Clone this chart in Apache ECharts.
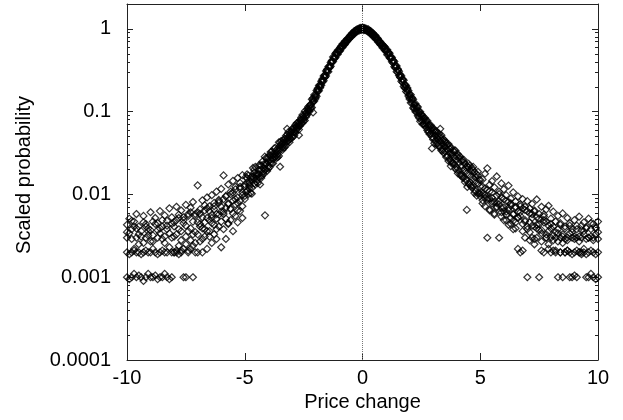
<!DOCTYPE html>
<html><head><meta charset="utf-8">
<script src="https://cdn.jsdelivr.net/npm/echarts@6/dist/echarts.min.js"></script>
<style>html,body{margin:0;padding:0;background:#fff}#c{width:623px;height:420px}</style>
</head><body><div id="c"></div>
<script>
// ---- data (price change vs scaled probability) ----
const xsLeft = [-10,-9.9,-9.8,-9.7,-9.6,-9.5,-9.4,-9.3,-9.2,-9.1,-9,-8.9,-8.8,-8.7,-8.6,-8.5,-8.4,-8.3,-8.2,-8.1,
  -8,-7.9,-7.8,-7.7,-7.6,-7.5,-7.4,-7.3,-7.2,-7.1,-7,-6.9,-6.8,-6.7,-6.6,-6.5,-6.4,-6.3,-6.2,-6.1,
  -6,-5.9,-5.8,-5.7,-5.6,-5.5,-5.4,-5.3,-5.2,-5.1];
const xsCore = [-5,-4.9,-4.8,-4.7,-4.6,-4.5,-4.4,-4.3,-4.2,-4.1,-4,-3.9,-3.8,-3.7,-3.6,-3.5,-3.4,-3.3,-3.2,-3.1,
  -3,-2.9,-2.8,-2.7,-2.6,-2.5,-2.4,-2.3,-2.2,-2.1,-2,-1.9,-1.8,-1.7,-1.6,-1.5,-1.4,-1.3,-1.2,-1.1,
  -1,-0.9,-0.8,-0.7,-0.6,-0.5,-0.4,-0.3,-0.2,-0.1,0,0.1,0.2,0.3,0.4,0.5,0.6,0.7,0.8,0.9,
  1,1.1,1.2,1.3,1.4,1.5,1.6,1.7,1.8,1.9,2,2.1,2.2,2.3,2.4,2.5,2.6,2.7,2.8,2.9,
  3,3.1,3.2,3.3,3.4,3.5,3.6,3.7,3.8,3.9,4,4.1,4.2,4.3,4.4,4.5,4.6,4.7,4.8,4.9,5];
const xsHalf = [-4.95,-4.85,-4.75,-4.65,-4.55,-4.45,-4.35,-4.25,-4.15,-4.05,
  -3.95,-3.85,-3.75,-3.65,-3.55,-3.45,-3.35,-3.25,-3.15,-3.05,
  -2.95,-2.85,-2.75,-2.65,-2.55,-2.45,-2.35,-2.25,-2.15,-2.05,
  -1.95,-1.85,-1.75,-1.65,-1.55,-1.45,-1.35,-1.25,-1.15,-1.05,
  -0.95,-0.85,-0.75,-0.65,-0.55,-0.45,-0.35,-0.25,-0.15,-0.05,
  0.05,0.15,0.25,0.35,0.45,0.55,0.65,0.75,0.85,0.95,
  1.05,1.15,1.25,1.35,1.45,1.55,1.65,1.75,1.85,1.95,
  2.05,2.15,2.25,2.35,2.45,2.55,2.65,2.75,2.85,2.95,
  3.05,3.15,3.25,3.35,3.45,3.55,3.65,3.75,3.85,3.95,
  4.05,4.15,4.25,4.35,4.45,4.55,4.65,4.75,4.85,4.95];
const xsRight = [5.1,5.2,5.3,5.4,5.5,5.6,5.7,5.8,5.9,6,6.1,6.2,6.3,6.4,6.5,6.6,6.7,6.8,6.9,7,
  7.1,7.2,7.3,7.4,7.5,7.6,7.7,7.8,7.9,8,8.1,8.2,8.3,8.4,8.5,8.6,8.7,8.8,8.9,9,
  9.1,9.2,9.3,9.4,9.5,9.6,9.7,9.8,9.9,10];

const s1Left = [0.001,0.00095,0.001,0.0011,0.001,0.00105,0.001,0.0009,0.001,0.0011,
  0.001,0.001,0.00105,0.00095,0.001,0.001,0.0011,0.001,0.00095,0.001,
  0.002,0.002,0.0019,0.0021,0.001,0.001,0.002,0.0022,0.001,0.002,
  0.002,0.0027,0.002,0.0031,0.0022,0.0036,0.0026,0.0033,0.0029,0.0041,
  0.0023,0.0038,0.0029,0.0045,0.0049,0.0036,0.0055,0.0046,0.0063,0.0052];
const s2Left = [0.002,0.0019,0.002,0.0021,0.002,0.002,0.0019,0.002,0.0021,0.002,
  0.002,0.0022,0.002,0.0019,0.002,0.0021,0.002,0.002,0.0023,0.002,
  0.002,0.0021,0.0024,0.002,0.0022,0.0025,0.0021,0.0028,0.0024,0.0026,
  0.0033,0.0041,0.0029,0.0046,0.0036,0.0031,0.0052,0.0043,0.0038,0.0057,
  0.0047,0.0062,0.0051,0.0044,0.0068,0.0059,0.0076,0.0064,0.0085,0.0072];
const s3Left = [0.003,0.0034,0.0029,0.0041,0.003,0.0025,0.0031,0.0046,0.003,0.0036,
  0.0027,0.0032,0.0044,0.003,0.0039,0.0029,0.0031,0.0048,0.0034,0.003,
  0.0041,0.0033,0.0052,0.0036,0.0045,0.0031,0.0058,0.0039,0.0047,0.0035,
  0.0061,0.0044,0.0053,0.0038,0.0068,0.0049,0.0057,0.0072,0.0051,0.0079,
  0.0062,0.0088,0.0069,0.0078,0.0101,0.0084,0.0115,0.0092,0.0124,0.0098];
const s4Left = [0.0043,0.0051,0.0038,0.0047,0.0058,0.0041,0.0036,0.0055,0.0044,0.0039,
  0.0061,0.0047,0.0052,0.0037,0.0063,0.0049,0.0056,0.0042,0.0068,0.0053,
  0.0046,0.0071,0.0057,0.0064,0.0049,0.0075,0.0055,0.0069,0.0081,0.0058,
  0.0129,0.0066,0.0085,0.0074,0.0092,0.0063,0.0098,0.0079,0.0108,0.0086,
  0.0117,0.017,0.0096,0.0132,0.0108,0.0146,0.0124,0.0158,0.0138,0.0171];
const s5Left = [0.0035,null,0.0048,0.0022,0.0039,0.0033,null,0.0026,0.0041,0.0032,
  0.0037,0.0027,null,0.0045,0.0034,0.0041,0.0026,0.0038,null,0.0044,
  0.0031,0.0049,0.0038,0.0028,0.0053,0.0042,0.0036,0.0061,0.0033,0.0055,
  0.0046,0.0058,0.0039,0.0064,0.0052,0.0072,0.0045,0.0066,0.0058,0.0083,
  0.0071,0.0058,0.0094,0.0076,0.0066,0.0105,0.0088,0.0079,0.0118,0.0106];

const s1Core = [0.0096,0.0156,0.0126,0.0165,0.0136,0.0179,0.0162,0.0224,0.0189,0.023,
  0.022,0.0297,0.0267,0.0335,0.0306,0.0389,0.0372,0.0473,0.0437,0.052,
  0.0497,0.0625,0.0608,0.0728,0.0724,0.0893,0.0902,0.109,0.112,0.139,
  0.149,0.187,0.199,0.242,0.259,0.319,0.34,0.408,0.437,0.515,
  0.539,0.612,0.637,0.714,0.745,0.836,0.862,0.949,0.96,1.01,1.0,
  0.97,0.989,0.911,0.898,0.804,0.775,0.686,0.663,0.588,
  0.561,0.485,0.464,0.388,0.361,0.298,0.281,0.226,0.213,0.171,
  0.163,0.128,0.124,0.0987,0.0996,0.0791,0.0832,0.0644,0.0691,0.0543,
  0.0594,0.045,0.0506,0.0378,0.0448,0.0333,0.0391,0.0273,0.0319,0.023,
  0.0288,0.0196,0.0252,0.016,0.0212,0.0136,0.0192,0.0128,0.0161,0.0104,0.015];
const s2Core = [0.0132,0.011,0.014,0.012,0.0184,0.0153,0.0198,0.0166,0.0231,0.0202,
  0.0275,0.0243,0.0307,0.0285,0.0357,0.0344,0.0424,0.0404,0.0483,0.0465,
  0.0572,0.056,0.0672,0.0665,0.0809,0.0808,0.0978,0.101,0.123,0.13,
  0.16,0.175,0.211,0.228,0.278,0.304,0.357,0.392,0.459,0.49,
  0.556,0.588,0.663,0.686,0.768,0.804,0.889,0.921,0.98,0.98,1.02,
  1.0,0.96,0.949,0.862,0.836,0.745,0.714,0.637,0.612,
  0.539,0.515,0.437,0.412,0.34,0.322,0.259,0.244,0.197,0.189,
  0.147,0.142,0.112,0.111,0.0884,0.091,0.0716,0.0756,0.0589,0.0649,
  0.0486,0.056,0.0414,0.0482,0.0352,0.0426,0.0296,0.0357,0.0247,0.0324,
  0.0213,0.0276,0.0168,0.0244,0.0153,0.0213,0.0128,0.0195,0.0112,0.0169,0.0102];
const s3Core = [0.0125,0.0138,0.0131,0.0152,0.0155,0.0168,0.0175,0.0201,0.0205,0.0238,
  0.0248,0.0262,0.0295,0.0305,0.0338,0.0362,0.0408,0.0425,0.0468,0.0492,
  0.0545,0.0582,0.0648,0.0692,0.0778,0.0842,0.0951,0.104,0.119,0.134,
  0.156,0.179,0.206,0.234,0.271,0.309,0.351,0.399,0.451,0.499,
  0.551,0.599,0.651,0.699,0.761,0.819,0.881,0.929,0.971,0.989,0.99,
  0.995,0.975,0.935,0.885,0.825,0.765,0.705,0.655,0.605,
  0.555,0.505,0.455,0.405,0.355,0.315,0.274,0.238,0.208,0.182,
  0.157,0.137,0.12,0.106,0.095,0.086,0.078,0.071,0.065,0.06,
  0.055,0.051,0.047,0.044,0.041,0.038,0.035,0.032,0.03,0.028,
  0.026,0.024,0.022,0.02,0.019,0.0175,0.0165,0.0155,0.0145,0.0135,0.0125];
const s4Core = [0.0088,0.0175,0.0118,0.0102,0.0198,0.0142,0.0225,0.0158,0.0178,0.0275,
  0.0205,0.0325,0.0238,0.0365,0.0282,0.0425,0.0345,0.0372,0.0528,0.0428,
  0.0612,0.0515,0.0725,0.0608,0.0852,0.0768,0.0865,0.115,0.108,0.146,
  0.143,0.192,0.194,0.249,0.262,0.325,0.343,0.415,0.443,0.521,
  0.532,0.621,0.644,0.722,0.752,0.842,0.872,0.952,0.985,1.03,1.04,
  1.02,0.952,0.942,0.872,0.845,0.752,0.722,0.642,0.622,
  0.532,0.522,0.441,0.418,0.338,0.328,0.262,0.248,0.192,0.194,
  0.142,0.148,0.108,0.116,0.0842,0.0935,0.0705,0.0785,0.0565,0.0685,
  0.0462,0.0585,0.0392,0.0505,0.0335,0.0445,0.0285,0.0385,0.0235,0.0342,
  0.0198,0.0292,0.0175,0.0262,0.0148,0.0235,0.0125,0.0215,0.0108,0.0188,0.0095];
const s5Half = [0.0163,0.0101,0.016,0.0209,0.0132,0.0175,0.0132,0.025,0.0198,0.0276,
  0.0213,0.033,0.0285,0.0276,0.0426,0.0404,0.0365,0.0512,0.0442,0.0572,
  0.0497,0.0689,0.0637,0.0794,0.0729,0.1015,0.0921,0.1177,0.1121,0.1595,
  0.154,0.207,0.209,0.27,0.27,0.35,0.353,0.459,0.451,0.551,
  0.546,0.656,0.648,0.759,0.766,0.884,0.869,0.979,0.951,1.025,
  0.965,1.009,0.912,0.941,0.808,0.83,0.701,0.702,0.594,0.604,
  0.488,0.508,0.4,0.405,0.304,0.307,0.234,0.24,0.175,0.179,
  0.128,0.141,0.1,0.114,0.0765,0.0891,0.0676,0.0777,0.0535,0.0638,
  0.0416,0.0576,0.0378,0.0519,0.0316,0.0419,0.0254,0.0366,0.0238,0.0338,
  0.018,0.0286,0.016,0.0235,0.0123,0.0223,0.0121,0.0186,0.0097,0.015];
const s6Half = [0.0106,0.0169,0.0104,0.0163,0.0215,0.0137,0.0226,0.017,0.0286,0.0192,
  0.0299,0.0238,0.036,0.0293,0.0291,0.0443,0.0457,0.0392,0.0566,0.0468,
  0.0633,0.0554,0.0737,0.0676,0.0915,0.0783,0.1069,0.101,0.1411,0.1349,
  0.18,0.179,0.233,0.237,0.31,0.304,0.394,0.404,0.504,0.494,
  0.598,0.6,0.709,0.708,0.814,0.816,0.941,0.922,1.009,0.975,
  1.025,0.96,0.988,0.869,0.884,0.766,0.767,0.648,0.65,0.552,
  0.562,0.447,0.451,0.349,0.356,0.273,0.27,0.202,0.207,0.155,
  0.16,0.111,0.125,0.0891,0.0997,0.0705,0.0838,0.0596,0.0689,0.0497,
  0.0614,0.0408,0.0543,0.034,0.0462,0.0284,0.0406,0.0252,0.0336,0.0203,
  0.0307,0.0172,0.026,0.0141,0.0219,0.0132,0.0209,0.0104,0.0176,0.0103];

const s1Right = [0.0078,0.0091,0.003,0.0064,0.0082,0.0057,0.0069,0.003,0.0061,0.0049,
  0.0057,0.0043,0.0052,0.0038,0.0046,0.0022,0.002,0.0021,0.003,0.001,
  0.0028,0.003,0.0025,0.003,0.001,0.0021,0.002,0.003,0.0022,0.002,
  0.0021,0.002,0.001,0.002,0.001,0.002,0.0021,0.001,0.001,0.00105,
  0.001,0.002,0.0019,0.002,0.001,0.001,0.0011,0.001,0.00095,0.001];
const s2Right = [0.0085,0.0072,0.0091,0.0066,0.0078,0.0059,0.0071,0.0083,0.0054,0.0063,
  0.0049,0.0068,0.0044,0.0057,0.0039,0.0052,0.0061,0.0036,0.0047,0.0041,
  0.0035,0.0052,0.0029,0.0043,0.0037,0.0027,0.0046,0.0033,0.0025,0.0039,
  0.0028,0.0021,0.0034,0.002,0.0026,0.002,0.0021,0.002,0.0019,0.002,
  0.0021,0.002,0.002,0.0022,0.0019,0.002,0.0021,0.002,0.0019,0.002];
const s3Right = [0.0124,0.0098,0.0113,0.0089,0.0106,0.0081,0.0097,0.0076,0.0092,0.0069,
  0.0083,0.0064,0.0078,0.0058,0.0071,0.0062,0.0055,0.0068,0.0049,0.0063,
  0.0046,0.0058,0.0041,0.0053,0.0044,0.0037,0.0049,0.003,0.0042,0.003,
  0.0032,0.003,0.0038,0.003,0.0031,0.0029,0.003,0.0034,0.003,0.0029,
  0.003,0.0031,0.003,0.0036,0.0029,0.003,0.0031,0.003,0.0033,0.0029];
const s4Right = [0.0152,0.0178,0.0207,0.0131,0.0145,0.0122,0.0165,0.0108,0.0136,0.0115,
  0.0098,0.0128,0.0089,0.0106,0.0082,0.0095,0.0076,0.0088,0.0071,0.0083,
  0.0068,0.0077,0.0062,0.0087,0.0058,0.0071,0.0054,0.0066,0.0073,0.0051,
  0.0062,0.0047,0.0055,0.0043,0.0059,0.0041,0.0052,0.0045,0.0038,0.0049,
  0.0042,0.0054,0.0037,0.0046,0.004,0.0051,0.0038,0.0044,0.0039,0.0047];
const s5Right = [0.0102,0.0118,0.0087,0.0109,0.0091,null,0.0079,0.0101,0.0069,0.0088,
  0.0062,0.0081,0.0074,0.0048,0.0069,0.0053,0.0072,0.0044,0.0065,0.0038,
  0.0059,0.0042,0.0064,0.0039,0.0051,0.0034,0.0057,0.0047,0.0036,0.0044,
  0.0041,0.0035,0.0027,0.0045,0.0033,0.0039,0.0028,0.0042,0.0035,0.0031,
  0.0038,0.0027,0.0042,0.0033,0.0039,0.003,0.0045,0.0028,0.004,0.0035];

// isolated points off the main band
const outlierX = [-4.14, -3.5, -2.1, -3.2, 2.95, 3.3, 4.43, 3.75, -2.7];
const outlierY = [0.0056, 0.0216, 0.098, 0.062, 0.036, 0.062, 0.0065, 0.022, 0.052];

const xTicks = [-10, -5, 0, 5, 10];
const yMajor = [0.0001, 0.001, 0.01, 0.1, 1];
const yMinor = [0.0002,0.0003,0.0004,0.0005,0.0006,0.0007,0.0008,0.0009,
  0.002,0.003,0.004,0.005,0.006,0.007,0.008,0.009,
  0.02,0.03,0.04,0.05,0.06,0.07,0.08,0.09,
  0.2,0.3,0.4,0.5,0.6,0.7,0.8,0.9];

// ---- build ----
function pairs(xs, ys) {
  const out = [];
  for (let i = 0; i < xs.length && i < ys.length; i++) {
    if (ys[i] != null) out.push([xs[i], ys[i]]);
  }
  return out;
}
const sets = [
  pairs(xsLeft, s1Left).concat(pairs(xsCore, s1Core), pairs(xsRight, s1Right)),
  pairs(xsLeft, s2Left).concat(pairs(xsCore, s2Core), pairs(xsRight, s2Right)),
  pairs(xsLeft, s3Left).concat(pairs(xsCore, s3Core), pairs(xsRight, s3Right)),
  pairs(xsLeft, s4Left).concat(pairs(xsCore, s4Core), pairs(xsRight, s4Right)),
  pairs(xsLeft, s5Left).concat(pairs(xsHalf, s5Half), pairs(xsRight, s5Right)),
  pairs(xsHalf, s6Half),
  pairs(outlierX, outlierY)
];

const FONT = "'Liberation Sans', Arial, Helvetica, sans-serif";
const AX = '#222';
const txt = { color: '#000', fontSize: 20, fontFamily: FONT };
function yLabel(v) {
  const e = Math.round(Math.log10(v));
  return e >= 0 ? String(Math.pow(10, e)) : '0.' + '0'.repeat(-e - 1) + '1';
}
const yBase = { type: 'log', logBase: 10, min: 0.0001, max: 2, splitLine: { show: false } };

const chart = echarts.init(document.getElementById('c'), null, { renderer: 'canvas' });
chart.setOption({
  animation: false,
  backgroundColor: '#fff',
  grid: { left: 127, right: 25, top: 4, bottom: 60 },
  xAxis: [
    { type: 'value', min: -10, max: 10, interval: 5, position: 'bottom',
      axisLine: { show: true, onZero: false, lineStyle: { color: AX, width: 1 } },
      axisTick: { show: true, inside: true, length: 7, customValues: xTicks, lineStyle: { color: AX } },
      axisLabel: Object.assign({ margin: 8, customValues: xTicks }, txt),
      splitLine: { show: false },
      name: 'Price change', nameLocation: 'middle', nameGap: 26, nameTextStyle: txt },
    { type: 'value', min: -10, max: 10, interval: 5, position: 'top',
      axisLine: { show: true, onZero: false, lineStyle: { color: AX, width: 1 } },
      axisTick: { show: true, inside: true, length: 7, customValues: xTicks, lineStyle: { color: AX } },
      axisLabel: { show: false }, splitLine: { show: false } }
  ],
  yAxis: [
    Object.assign({}, yBase, { position: 'left',
      axisLine: { show: true, onZero: false, lineStyle: { color: AX, width: 1 } },
      axisTick: { show: true, inside: true, length: 6, customValues: yMajor, lineStyle: { color: AX } },
      axisLabel: Object.assign({ margin: 16, customValues: yMajor, formatter: yLabel }, txt),
      name: 'Scaled probability', nameLocation: 'middle', nameGap: 93,
      nameTextStyle: Object.assign({ padding: [0, 0, 0, 14] }, txt) }),
    Object.assign({}, yBase, { position: 'left',
      axisLine: { show: false, onZero: false },
      axisTick: { show: true, inside: true, length: 3, customValues: yMinor, lineStyle: { color: AX } },
      axisLabel: { show: false } }),
    Object.assign({}, yBase, { position: 'right',
      axisLine: { show: true, onZero: false, lineStyle: { color: AX, width: 1 } },
      axisTick: { show: true, inside: true, length: 6, customValues: yMajor, lineStyle: { color: AX } },
      axisLabel: { show: false } }),
    Object.assign({}, yBase, { position: 'right',
      axisLine: { show: false, onZero: false },
      axisTick: { show: true, inside: true, length: 3, customValues: yMinor, lineStyle: { color: AX } },
      axisLabel: { show: false } })
  ],
  series: sets.map((d, k) => ({
    type: 'scatter', xAxisIndex: 0, yAxisIndex: 0, data: d,
    symbol: 'diamond', symbolSize: 7,
    itemStyle: { color: 'rgba(255,255,255,0)', borderColor: '#000', borderWidth: 1.2 },
    emphasis: { disabled: true }, silent: true,
    markLine: k === 0 ? { symbol: 'none', silent: true, label: { show: false },
      lineStyle: { type: 'dotted', color: '#777', width: 1 }, data: [{ xAxis: 0 }] } : undefined
  }))
});
</script></body></html>
